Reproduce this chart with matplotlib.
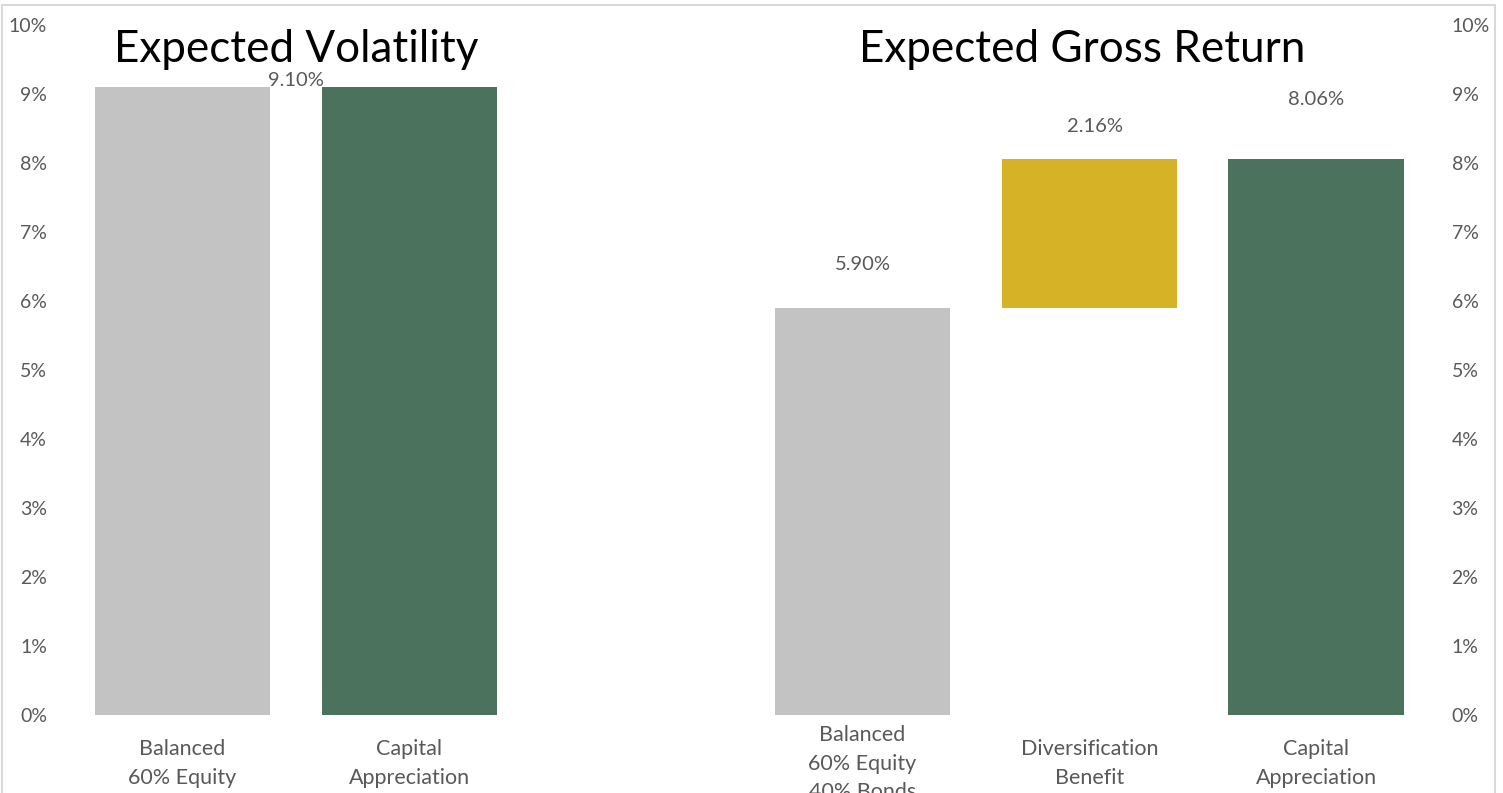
import matplotlib.pyplot as plt
from matplotlib.patches import Rectangle

plt.rcParams['font.family'] = ['Lato', 'DejaVu Sans']

# Данные
categories = ['Balanced\n60% Equity', 'Capital\nAppreciation', '',
              'Balanced\n60% Equity\n40% Bonds', 'Diversification\nBenefit', 'Capital\nAppreciation']
bar_bottoms = [0, 0, 0, 0, 5.90, 0]
bar_values = [9.10, 9.10, 0, 5.90, 2.16, 8.06]
value_labels = ['', '', '', '5.90%', '2.16%', '8.06%']
volatility_label = '9.10%'
panel_titles = ['Expected Volatility', 'Expected Gross Return']

colors = ['#C3C3C3', '#4A725C', 'none', '#C3C3C3', '#D6B326', '#4A725C']
text_color = '#595959'

fig = plt.figure(figsize=(15.03, 7.93), dpi=100)
ax = fig.add_axes([0.046, 0.0984, 0.905, 0.870])

x = list(range(len(categories)))
ax.bar(x, bar_values, bottom=bar_bottoms, width=0.772, color=colors, zorder=2)

ax.set_xlim(-0.5, 5.5)
ax.set_ylim(0, 10)
ax.set_yticks(range(0, 11))
ax.set_yticklabels([f'{v}%' for v in range(0, 11)])
ax.tick_params(axis='y', length=0, labelright=True, labelsize=14,
               labelcolor=text_color, pad=16)

ax.set_xticks(x)
ax.set_xticklabels(categories, fontsize=15.5, color=text_color, linespacing=1.55)
ax.tick_params(axis='x', length=0, pad=35)
for t in ax.get_xticklabels():
    t.set_verticalalignment('center')

for s in ax.spines.values():
    s.set_visible(False)

# подписи значений
label_offsets = [0, 0, 0, 43, 32, 59]
for i, lab in enumerate(value_labels):
    if lab:
        top = bar_bottoms[i] + bar_values[i]
        ax.annotate(lab, (x[i], top), xytext=(4 if i == 4 else 0, label_offsets[i] * 0.72),
                    textcoords='offset points', ha='center', va='center',
                    fontsize=14.5, color=text_color)
ax.annotate(volatility_label, (0.5, bar_values[0]), xytext=(0, 5), textcoords='offset points',
            ha='center', va='center', fontsize=14.5, color=text_color)

# заголовки
ax.text(0.5, 9.64, panel_titles[0], ha='center', va='center', fontsize=31.7, color='black')
ax.text(3.97, 9.64, panel_titles[1], ha='center', va='center', fontsize=31.7, color='black')

# рамка
fig.patches.append(Rectangle((2 / 1503, -0.05), 1493 / 1503, 1.05 - 5 / 793,
                             transform=fig.transFigure, fill=False,
                             edgecolor='#D9D9D9', linewidth=1.5))

fig.savefig('out.png', dpi=100)
